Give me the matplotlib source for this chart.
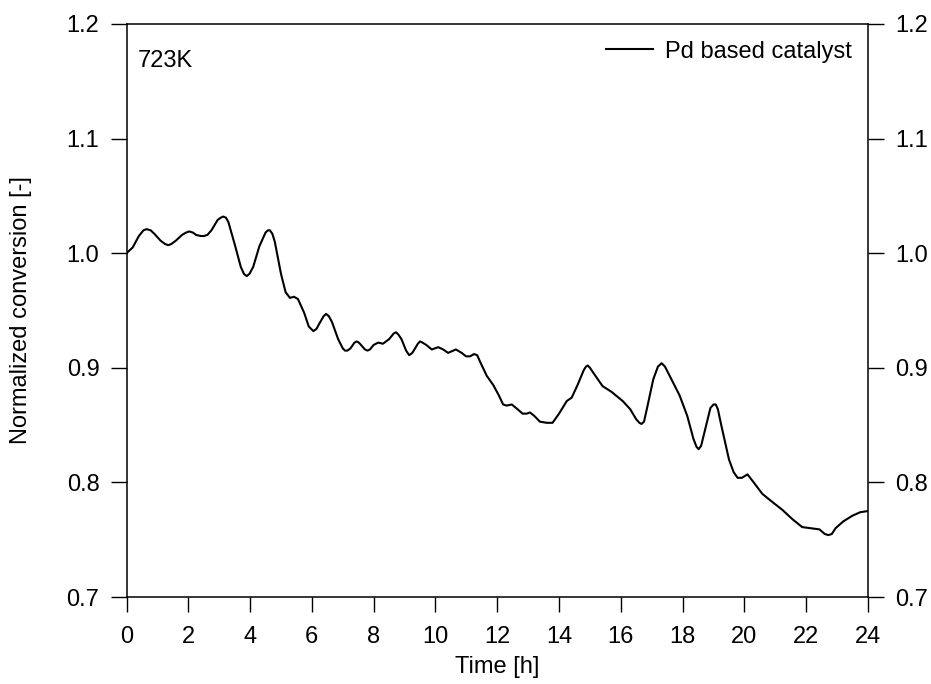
import matplotlib.pyplot as plt
import numpy as np

plt.rcParams['font.family'] = ['Liberation Sans', 'DejaVu Sans']
plt.rcParams['font.size'] = 17

# Temps (h) et conversion normalisée, catalyseur Pd à 723 K
time_h = [0.0, 0.2, 0.4, 0.55, 0.65, 0.78, 0.9, 1.1, 1.25, 1.35, 1.45, 1.6,
          1.8, 1.93, 2.03, 2.15, 2.25, 2.4, 2.51, 2.62, 2.75, 2.95, 3.05, 3.13,
          3.22, 3.3, 3.5, 3.7, 3.8, 3.89, 3.98, 4.1, 4.3, 4.5, 4.58, 4.64,
          4.72, 4.8, 5.0, 5.15, 5.29, 5.42, 5.55, 5.75, 5.9, 6.05, 6.15, 6.25,
          6.38, 6.46, 6.55, 6.65, 6.85, 7.0, 7.07, 7.15, 7.25, 7.38, 7.45,
          7.52, 7.62, 7.72, 7.8, 7.88, 8.0, 8.15, 8.3, 8.5, 8.65, 8.72, 8.8,
          8.9, 9.05, 9.15, 9.25, 9.32, 9.43, 9.5, 9.58, 9.7, 9.88, 10.09,
          10.25, 10.41, 10.66, 10.85, 10.99, 11.12, 11.25, 11.35, 11.45, 11.66,
          11.87, 12.05, 12.19, 12.3, 12.47, 12.65, 12.82, 12.95, 13.06, 13.2,
          13.38, 13.6, 13.79, 14.0, 14.25, 14.41, 14.6, 14.8, 14.87, 14.93,
          15.0, 15.1, 15.41, 15.7, 16.06, 16.3, 16.5, 16.6, 16.67, 16.75,
          16.85, 17.05, 17.2, 17.32, 17.43, 17.6, 17.9, 18.15, 18.35, 18.45,
          18.52, 18.6, 18.7, 18.9, 19.0, 19.07, 19.14, 19.25, 19.5, 19.65,
          19.78, 19.92, 20.1, 20.3, 20.58, 20.9, 21.23, 21.55, 21.87, 22.15,
          22.43, 22.6, 22.72, 22.83, 22.95, 23.2, 23.5, 23.75, 24.0]
conversion = [1.000, 1.005, 1.015, 1.020, 1.021, 1.020, 1.017, 1.011, 1.008,
              1.007, 1.008, 1.011, 1.016, 1.018, 1.019, 1.018, 1.016, 1.015,
              1.015, 1.016, 1.020, 1.029, 1.031, 1.032, 1.031, 1.027, 1.008,
              0.988, 0.982, 0.980, 0.982, 0.988, 1.006, 1.018, 1.020, 1.020,
              1.017, 1.010, 0.982, 0.966, 0.961, 0.962, 0.960, 0.948, 0.936,
              0.932, 0.934, 0.939, 0.945, 0.947, 0.945, 0.940, 0.925, 0.917,
              0.915, 0.915, 0.917, 0.922, 0.923, 0.922, 0.919, 0.916, 0.915,
              0.916, 0.920, 0.922, 0.921, 0.925, 0.930, 0.931, 0.929, 0.925,
              0.915, 0.911, 0.913, 0.916, 0.921, 0.923, 0.922, 0.920, 0.916,
              0.918, 0.916, 0.913, 0.916, 0.913, 0.910, 0.910, 0.912, 0.911,
              0.905, 0.893, 0.885, 0.876, 0.868, 0.867, 0.868, 0.864, 0.860,
              0.860, 0.861, 0.858, 0.853, 0.852, 0.852, 0.860, 0.871, 0.874,
              0.885, 0.898, 0.901, 0.902, 0.900, 0.896, 0.884, 0.879, 0.871,
              0.864, 0.855, 0.852, 0.851, 0.853, 0.865, 0.890, 0.901, 0.904,
              0.901, 0.892, 0.876, 0.858, 0.838, 0.831, 0.829, 0.832, 0.843,
              0.865, 0.868, 0.868, 0.864, 0.850, 0.820, 0.809, 0.804, 0.804,
              0.807, 0.800, 0.790, 0.783, 0.776, 0.768, 0.761, 0.760, 0.759,
              0.755, 0.754, 0.755, 0.760, 0.766, 0.771, 0.774, 0.775]

x_ticks = np.arange(0, 25, 2)
y_ticks = [0.7, 0.8, 0.9, 1.0, 1.1, 1.2]

fig = plt.figure(figsize=(9.31, 6.84), dpi=100)
ax = fig.add_axes([126.5 / 931, 1 - 597 / 684, (868 - 126.5) / 931, (597 - 24) / 684])

ax.plot(time_h, conversion, color='black', linewidth=1.5, label='Pd based catalyst',
        solid_joinstyle='round')

ax.set_xlim(0, 24)
ax.set_ylim(0.7, 1.2)
ax.set_xticks(x_ticks)
ax.set_yticks(y_ticks)
ax.set_yticklabels([f'{v:.1f}' for v in y_ticks])

for s in ax.spines.values():
    s.set_linewidth(1.1)
ax.tick_params(axis='x', direction='out', length=11, width=1.0, pad=10)
ax.tick_params(axis='y', direction='out', length=11.5, width=1.0, pad=8,
               right=True, labelright=True)

ax.set_xlabel('Time [h]', labelpad=6)
ax.set_ylabel('Normalized conversion [-]', labelpad=25)

ax.text(0.015, 0.935, '723K', transform=ax.transAxes, ha='left', va='center')
ax.legend(loc='upper right', frameon=False, handlelength=2.0, handletextpad=0.5,
          borderaxespad=0.3, borderpad=0.4)

fig.savefig('out.png', dpi=100)
